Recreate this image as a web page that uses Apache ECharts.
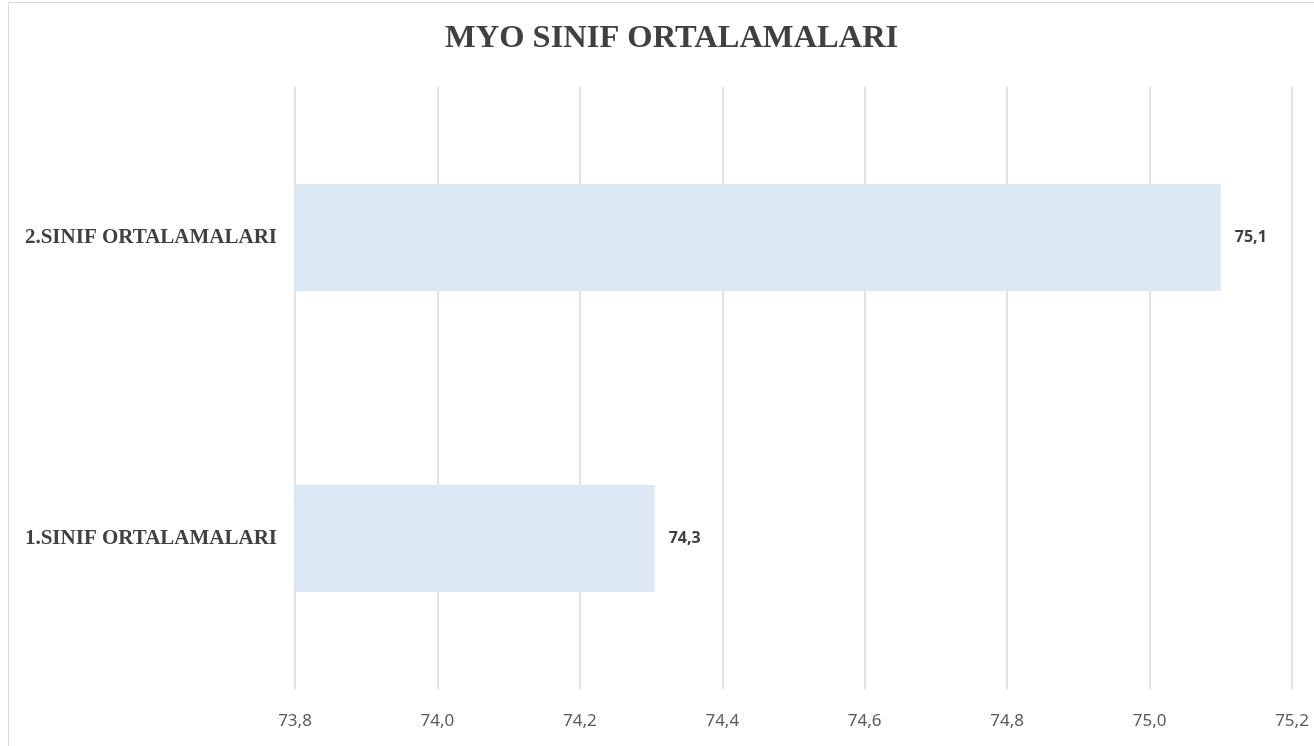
<!DOCTYPE html>
<html>
<head>
<meta charset="utf-8">
<script src="https://cdn.jsdelivr.net/npm/echarts@6/dist/echarts.min.js"></script>
<style>
html,body{margin:0;padding:0;background:#fff;}
#chart{width:1314px;height:746px;}
</style>
</head>
<body>
<div id="chart"></div>
<script>
const categories = ["1.SINIF ORTALAMALARI", "2.SINIF ORTALAMALARI"];
const values = [74.305, 75.1];
const xTickMin = 73.8;
const xTickMax = 75.2;
const xTickStep = 0.2;

const chart = echarts.init(document.getElementById('chart'));
chart.setOption({
  animation: false,
  backgroundColor: '#fff',
  graphic: [{
    type: 'rect', silent: true, z: -10,
    shape: {x: 8.5, y: 2.5, width: 1400, height: 800},
    style: {fill: '#fff', stroke: '#d9d9d9', lineWidth: 1}
  }],
  title: {
    text: 'MYO SINIF ORTALAMALARI',
    left: 440,
    top: 17,
    textStyle: {fontFamily: 'Liberation Serif', fontWeight: 'bold', fontSize: 32.5, color: '#404040'}
  },
  grid: {left: 295, right: 22, top: 87, bottom: 57, containLabel: false},
  xAxis: {
    type: 'value',
    min: xTickMin, max: xTickMax, interval: xTickStep,
    axisLine: {show: false}, axisTick: {show: false},
    splitLine: {lineStyle: {color: '#d9d9d9', width: 1.5}},
    axisLabel: {
      margin: 24,
      fontFamily: 'Noto Sans', fontSize: 17, color: '#595959',
      formatter: v => v.toFixed(1).replace('.', ',')
    }
  },
  yAxis: {
    type: 'category',
    data: categories,
    axisLine: {show: false}, axisTick: {show: false},
    axisLabel: {
      margin: 18,
      fontFamily: 'Liberation Serif', fontWeight: 'bold', fontSize: 21, color: '#404040'
    }
  },
  series: [{
    type: 'bar',
    data: values,
    barCategoryGap: '64.5%',
    itemStyle: {color: '#dde8f5'},
    label: {
      show: true, position: 'right', distance: 14,
      fontFamily: 'Noto Sans', fontWeight: 'bold', fontSize: 16, color: '#404040',
      formatter: p => p.value.toFixed(1).replace('.', ',')
    }
  }]
});
</script>
</body>
</html>
